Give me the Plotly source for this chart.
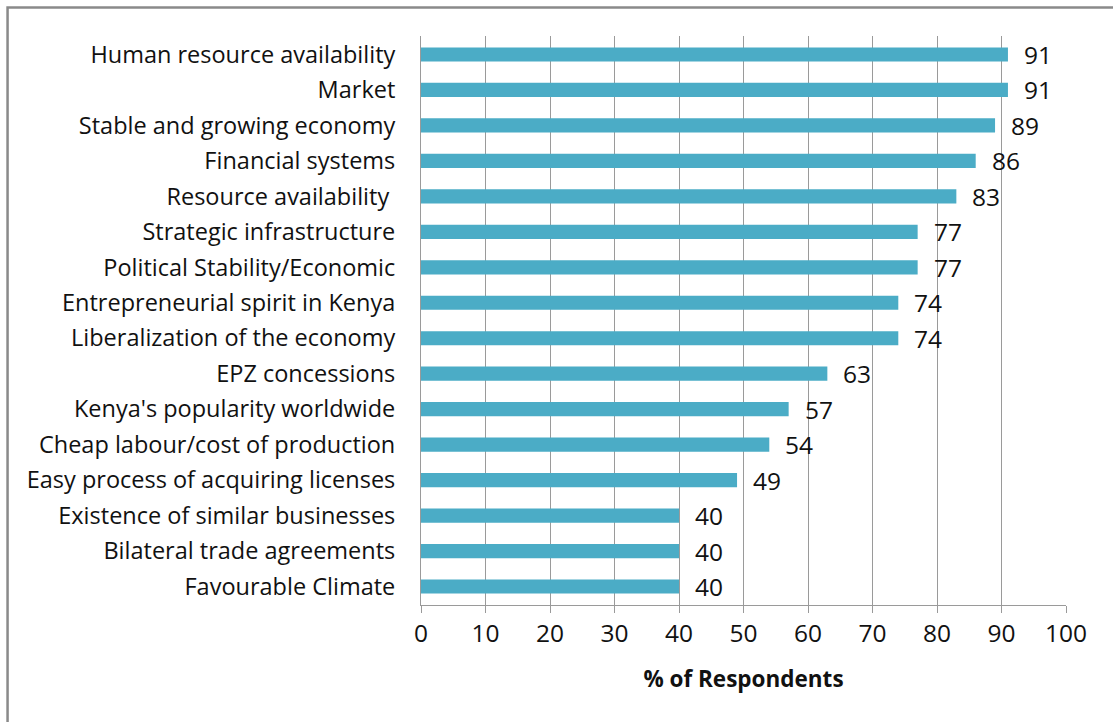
import plotly.graph_objects as go

categories = [
    "Human resource availability",
    "Market",
    "Stable and growing economy",
    "Financial systems",
    "Resource availability ",
    "Strategic infrastructure",
    "Political Stability/Economic",
    "Entrepreneurial spirit in Kenya",
    "Liberalization of the economy",
    "EPZ concessions",
    "Kenya's popularity worldwide",
    "Cheap labour/cost of production",
    "Easy process of acquiring licenses",
    "Existence of similar businesses",
    "Bilateral trade agreements",
    "Favourable Climate",
]
values = [91, 91, 89, 86, 83, 77, 77, 74, 74, 63, 57, 54, 49, 40, 40, 40]
x_ticks = list(range(0, 101, 10))

FONT = "Open Sans"
BAR = "#4BACC6"
GRID = "#9a9a9a"
TXT = "#111111"

fig = go.Figure(
    go.Bar(
        x=values,
        y=categories,
        orientation="h",
        marker=dict(color=BAR, line=dict(width=0)),
        hoverinfo="x+y",
    )
)

# value labels to the right of each bar
for cat, val in zip(categories, values):
    fig.add_annotation(
        x=val, y=cat, xref="x", yref="y",
        text=str(val), showarrow=False,
        xanchor="left", yanchor="middle", xshift=14,
        font=dict(family=FONT, size=24.5, color=TXT),
    )

# outer chart frame
fig.add_shape(
    type="rect", xref="paper", yref="paper",
    x0=-0.641, x1=1.3, y0=-0.4, y1=1.050,
    line=dict(color="#8a8a8a", width=2.5), fillcolor="rgba(0,0,0,0)",
    layer="below",
)

fig.update_layout(
    width=1113, height=722,
    margin=dict(l=421, r=47, t=36, b=117),
    paper_bgcolor="white", plot_bgcolor="white",
    bargap=0.6,
    showlegend=False,
    font=dict(family=FONT, size=23.5, color=TXT),
    xaxis=dict(
        range=[0, 100],
        tickvals=x_ticks,
        showgrid=True, gridcolor=GRID, gridwidth=1,
        zeroline=False,
        showline=True, linecolor=GRID, linewidth=1,
        ticks="outside", ticklen=7, tickcolor=GRID,
        tickfont=dict(family=FONT, size=24.5, color=TXT),
        title=dict(text="<b>% of Respondents</b>",
                   font=dict(family=FONT, size=22.5, color=TXT), standoff=22),
        fixedrange=True,
    ),
    yaxis=dict(
        categoryorder="array", categoryarray=categories[::-1],
        showgrid=False, zeroline=False,
        showline=True, linecolor=GRID, linewidth=1,
        ticks="", ticklabelstandoff=20,
        tickfont=dict(family=FONT, size=23.5, color=TXT),
        fixedrange=True,
    ),
)

fig.write_html("out.html")
